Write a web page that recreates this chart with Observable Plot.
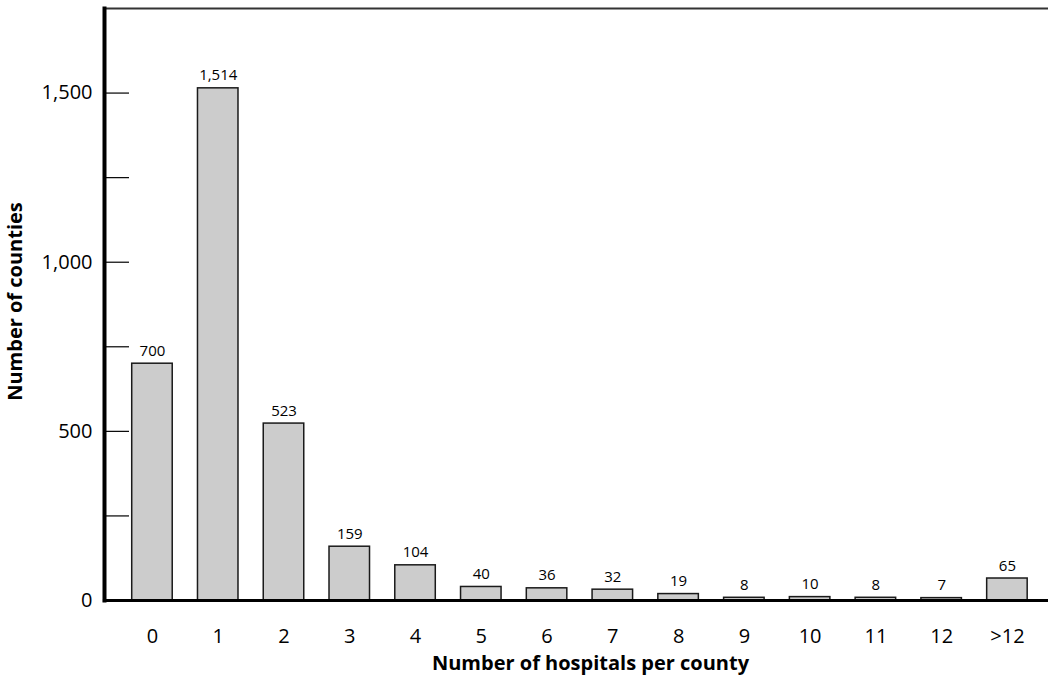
<!DOCTYPE html>
<html>
<head>
<meta charset="utf-8">
<script src="https://cdn.jsdelivr.net/npm/d3@7"></script>
<script src="https://cdn.jsdelivr.net/npm/@observablehq/plot@0.6"></script>
<style>
  html, body { margin: 0; padding: 0; background: #fff; }
  #chart svg { display: block; }
</style>
</head>
<body>
<div id="chart"></div>
<script>
const categories = ["0", "1", "2", "3", "4", "5", "6", "7", "8", "9", "10", "11", "12", ">12"];
const counts = [700, 1514, 523, 159, 104, 40, 36, 32, 19, 8, 10, 8, 7, 65];
const yTickLabels = [0, 500, 1000, 1500];
const yMinorTicks = [250, 500, 750, 1000, 1250, 1500];
const xTitle = "Number of hospitals per county";
const yTitle = "Number of counties";

const data = categories.map((c, i) => ({category: c, count: counts[i]}));
const font = "'Open Sans', 'Noto Sans', sans-serif";
const fmt = d3.format(",");

const chart = Plot.plot({
  width: 1048,
  height: 675,
  marginLeft: 104,
  marginRight: 0,
  marginTop: 8,
  marginBottom: 75,
  style: {fontFamily: font, background: "#fff", color: "#000"},
  x: {domain: categories, paddingInner: 0.384, paddingOuter: 0.369, align: 0.571, round: false},
  y: {domain: [0, 1750]},
  marks: [
    Plot.barY(data, {x: "category", y: "count", fill: "#cccccc", stroke: "#1a1a1a", strokeWidth: 1.5}),
    Plot.text(data, {x: "category", y: "count", text: d => fmt(d.count), dy: -8, lineAnchor: "bottom", fontSize: 15, fill: "#000"}),
    Plot.axisY({ticks: yMinorTicks, tickSize: -25, text: null, stroke: "#000", strokeWidth: 1.2, label: null}),
    Plot.axisY({ticks: yTickLabels, tickSize: 0, tickPadding: 12, tickFormat: d => fmt(d), fontSize: 20, label: null, fill: "#000"}),
    Plot.axisX({tickSize: 0, tickPadding: 28, fontSize: 20, label: null, fill: "#000"}),
    Plot.frame({anchor: "top", stroke: "#333", strokeWidth: 2}),
    Plot.frame({anchor: "bottom", stroke: "#000", strokeWidth: 3.2}),
    Plot.frame({anchor: "left", stroke: "#000", strokeWidth: 4}),
    Plot.text([xTitle], {frameAnchor: "bottom", textAnchor: "middle", dx: 14, dy: 63, lineAnchor: "middle", fontSize: 20, fontWeight: "bold", fill: "#000"}),
    Plot.text([yTitle], {frameAnchor: "left", textAnchor: "middle", dx: -89, dy: -3, rotate: -90, lineAnchor: "middle", fontSize: 20, fontWeight: "bold", fill: "#000"})
  ]
});
document.getElementById("chart").appendChild(chart);
</script>
</body>
</html>
